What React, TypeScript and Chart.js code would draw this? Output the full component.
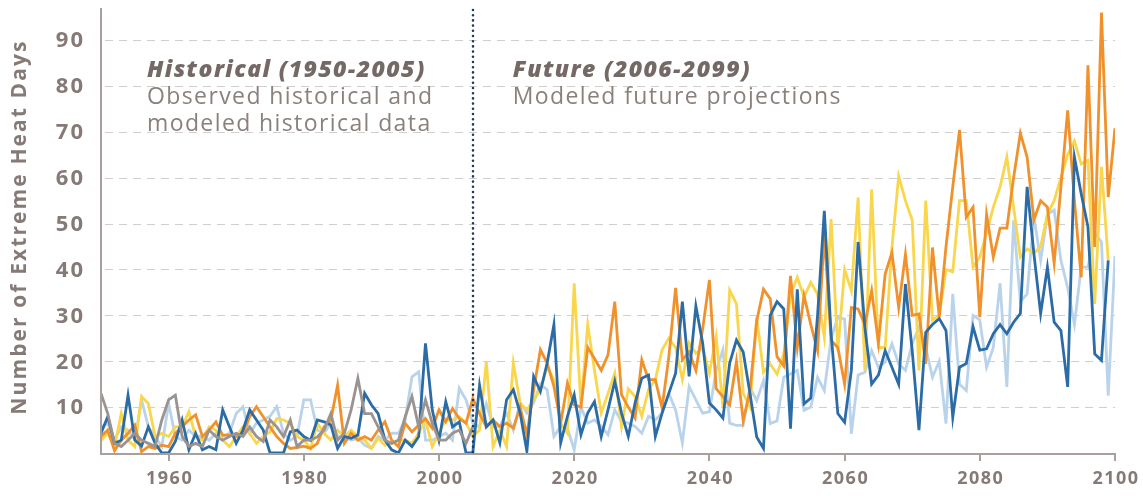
import React, { useEffect, useRef } from "react";
import { Chart, registerables } from "chart.js";

Chart.register(...registerables);

// ---------- data ----------
const FIRST_YEAR = 1950;
const X_TICKS = [1960, 1980, 2000, 2020, 2040, 2060, 2080, 2100];
const Y_TICKS = [10, 20, 30, 40, 50, 60, 70, 80, 90];
const DIVIDER_YEAR = 2005;

// observed historical (1950-2005)
const observed = [
  13, 8.6, 2.1, 1.4, 2.8, 4.3, 2.8, 2.1, 1.4, 7.2,
  11.6, 12.6, 3.6, 1.4, 2.1, 1.4, 5, 3.6, 2.8, 3.6,
  4.3, 3.6, 5.7, 3.6, 2.5, 7.2, 5.7, 3.6, 7.2, 1.4,
  2.8, 2.8, 3.5, 5, 8.6, 2.8, 4.3, 9.4, 16.3, 8.6,
  8.6, 5.7, 2.8, 2.1, 2.8, 7.9, 12.3, 5.7, 11.6, 6.5,
  2.8, 2.8, 4.3, 5, 2.1, 5.7,
];

// model 1 (dark blue), 1950-2099
const darkBlue = [
  4.3, 7.9, 2.1, 2.8, 12.6, 2.8, 1.5, 5.7, 2.1, 0,
  0, 2.5, 7.2, 0.7, 4.3, 0.7, 1.4, 0.7, 9.4, 5.7,
  2.1, 5, 9.4, 7.2, 5, 0, 0, 0, 4.6, 5,
  3.6, 2.8, 7.2, 6.8, 6.1, 1, 3.6, 3.2, 3.9, 13,
  10.5, 8.6, 2.8, 0.7, 0, 2.8, 1.4, 3.6, 23.9, 9.4,
  2.8, 11.2, 5.7, 6.8, 0, 0, 14.7, 5.7, 7.2, 2.2,
  11.6, 13.8, 8.7, 0.4, 16.7, 13.4, 19.6, 28, 2.2, 8,
  12.7, 4, 8.7, 11.2, 3.6, 9.4, 15.6, 8.7, 3.6, 10.9,
  16.3, 17, 3.6, 8.7, 13, 17.4, 33, 16.7, 32, 24,
  10.9, 9.4, 7.6, 19.6, 24.6, 22, 13, 3.5, 1, 30,
  33, 31.4, 5.3, 35.7, 10.7, 12, 30, 52.8, 26, 8.6,
  6.7, 18, 46, 27.4, 15, 17, 22.3, 18.7, 15, 36.8,
  22.3, 5, 26.3, 28, 29.3, 26.7, 7.8, 18.7, 19.5, 27.5,
  22.4, 22.7, 26, 28, 26, 28.5, 30.4, 58, 43.5, 30.4,
  40.5, 28.5, 26.7, 14.4, 64.5, 56.5, 49.3, 21.6, 20.2, 42,
];

// model 2 (light blue), 1950-2100
const lightBlue = [
  5.7, 6.5, 2.8, 5.7, 5, 2.8, 11.6, 5.7, 3.6, 1.4,
  10.8, 3.6, 2.8, 5, 3.6, 3.6, 2.8, 4.3, 3.6, 4.3,
  8.6, 10.1, 4.3, 6.5, 7.2, 8, 10.1, 4.3, 2.8, 3.6,
  11.6, 11.6, 5, 4.3, 6.5, 3.6, 3.6, 2.8, 3.2, 1.7,
  1, 3.6, 2.8, 4.3, 4.3, 7.2, 16.6, 17.7, 2.8, 2.8,
  3.6, 4.3, 2.8, 14.1, 11.6, 6.5, 5.7, 10.8, 5.7, 5.8,
  8.7, 5, 11, 8.7, 11, 15, 13.8, 3.6, 5.8, 5.4,
  0.7, 10, 6.5, 7.2, 5.8, 4, 9.4, 6.9, 6.5, 5.8,
  4.3, 8, 7.2, 8.7, 13, 9.4, 2.2, 14.5, 11.6, 8.7,
  9, 18, 22.5, 6.5, 6, 6, 14.3, 11.4, 15.8, 6.4,
  7, 16.5, 17.2, 18, 9.3, 10, 16.5, 13.6, 25, 29.6,
  29.2, 4.2, 17, 17.6, 22.3, 18.7, 19.8, 23.8, 19.4, 18,
  23.8, 27.4, 23, 16.5, 20, 6.4, 34.7, 15, 13.6, 30,
  29, 18.7, 23, 37, 14.4, 50.7, 33, 34.7, 51.5, 42,
  52, 53, 42, 36, 28, 40.5, 40.5, 48, 46, 12.5,
  43,
];

// model 3 (yellow), 1950-2099
const yellow = [
  2.8, 4.3, 1.4, 8.6, 2.8, 1.4, 12.3, 10.8, 3.6, 4.3,
  3.6, 5.7, 5.7, 9, 3.6, 2.8, 5.7, 5, 2.8, 1.4,
  3.6, 5.7, 4.3, 2.1, 3.6, 4.6, 7.5, 7.2, 6.5, 3.6,
  2.8, 1, 6.5, 4.3, 2.8, 5, 3.6, 5, 3.6, 2.8,
  1, 3.2, 1.7, 2.1, 2.8, 2.8, 2.1, 4.3, 7.2, 1.4,
  4.3, 7.2, 7.2, 7.9, 6.5, 3.6, 5, 19.8, 1.4, 5,
  1.4, 19.6, 10.9, 9.4, 11.6, 13.8, 18.8, 16, 6.5, 4.3,
  37, 10, 28, 18, 8.7, 13, 17.4, 5.8, 14, 12.3,
  8, 13.8, 16, 22.5, 25, 23, 16, 24, 21.7, 23,
  17.4, 25.4, 10, 35.5, 32.5, 13, 10, 29.6, 17.6, 19.4,
  17.2, 21.6, 34.6, 38.3, 34, 37.2, 34.6, 25.2, 51, 22.3,
  40, 35.4, 55.7, 18, 57.5, 23, 23, 44.8, 60.4, 55,
  50.8, 18, 55, 29, 30, 40, 39.5, 55, 55, 40.5,
  42.7, 48, 53.6, 58, 64.5, 53.6, 42.7, 44.5, 43.5, 45,
  52, 55, 60, 65, 68, 63, 63.8, 32.5, 62.4, 42,
];

// model 4 (orange), 1950-2100
const orange = [
  3.6, 5, 0.5, 2.8, 4.3, 6.1, 0.3, 1.4, 1, 1.7,
  1.4, 4.3, 5.7, 7.2, 8.3, 3.6, 5, 6.8, 3.9, 3.9,
  3.6, 4.3, 7.9, 10.1, 7.9, 5.7, 3.6, 2.1, 1, 1.2,
  1.5, 1, 2.1, 5.7, 7.2, 14.8, 2.1, 4.3, 2.8, 3.6,
  2.8, 5, 6.8, 2.8, 1.4, 6.5, 4.6, 6.1, 7.5, 5.4,
  9.4, 6.8, 9.7, 7.5, 6.5, 11.9, 8.6, 5.7, 7.2, 5.8,
  6.5, 5.4, 10, 4, 13.8, 22.5, 19.6, 14.5, 6.5, 15.2,
  10.5, 10, 23, 20.6, 18, 21.4, 33, 12.7, 10, 7.6,
  20.3, 16, 16, 9.8, 21, 36, 20.3, 22, 18, 27,
  37.7, 14, 12.3, 10.5, 20, 7, 13.6, 28.8, 35.7, 33.6,
  21, 19, 38.6, 23, 34.3, 28, 22.3, 47.7, 24.5, 23,
  15, 31.7, 31.4, 28, 35.4, 24, 39, 43.7, 31.7, 43.3,
  30, 30.3, 19.4, 44.8, 29.6, 45, 58, 70.4, 51.4, 53.6,
  29.6, 52, 42.7, 49, 49, 60, 69.7, 64.5, 50.8, 55,
  53.6, 41.4, 58, 74.7, 55, 38.3, 84.5, 44.9, 96, 55.8,
  70.8,
];

const NOTES = [
  { year: 1956.8, value: 83.4, lines: ["Historical (1950-2005)", "Observed historical and", "modeled historical data"] },
  { year: 2010.9, value: 83.4, lines: ["Future (2006-2099)", "Modeled future projections"] },
];
const Y_TITLE = "Number of Extreme Heat Days";

// ---------- styles ----------
const FONT = "'Open Sans', 'DejaVu Sans', sans-serif";
const LABEL_COLOR = "#857a76";
const NOTE_TITLE_COLOR = "#746965";
const NOTE_TEXT_COLOR = "#8a807c";
const AXIS_COLOR = "#a8a09c";
const GRID_COLOR = "#cfcfcf";

const toPoints = (arr: number[]) => arr.map((v, i) => ({ x: FIRST_YEAR + i, y: v }));

const setSpacing = (ctx: any, px: number) => {
  ctx.letterSpacing = `${px}px`;
};

const overlayPlugin = {
  id: "overlay",
  beforeDatasetsDraw(chart: any) {
    const { ctx, chartArea: ca, scales } = chart;
    const xs = scales.x;
    const ys = scales.y;
    ctx.save();
    // dashed gridlines
    ctx.strokeStyle = GRID_COLOR;
    ctx.lineWidth = 1;
    ctx.setLineDash([8, 6]);
    Y_TICKS.forEach((v) => {
      const py = Math.round(ys.getPixelForValue(v)) + 0.5;
      ctx.beginPath();
      ctx.moveTo(ca.left + 4, py);
      ctx.lineTo(ca.right, py);
      ctx.stroke();
    });
    ctx.setLineDash([]);

    // y tick labels
    ctx.fillStyle = LABEL_COLOR;
    ctx.textAlign = "right";
    ctx.textBaseline = "middle";
    ctx.font = `bold 22px ${FONT}`;
    setSpacing(ctx, 2);
    Y_TICKS.forEach((v) => {
      ctx.fillText(String(v), ca.left - 16, ys.getPixelForValue(v) + 1);
    });
    // x tick labels
    ctx.textAlign = "center";
    ctx.font = `bold 18px ${FONT}`;
    setSpacing(ctx, 1.5);
    X_TICKS.forEach((v) => {
      ctx.fillText(String(v), xs.getPixelForValue(v) + 1, ca.bottom + 26);
    });

    // annotations
    ctx.textAlign = "left";
    ctx.textBaseline = "middle";
    NOTES.forEach((n) => {
      const px = xs.getPixelForValue(n.year);
      const py0 = ys.getPixelForValue(n.value);
      n.lines.forEach((line, i) => {
        if (i === 0) {
          ctx.font = `italic 800 23px ${FONT}`;
          ctx.fillStyle = NOTE_TITLE_COLOR;
        } else {
          ctx.font = `500 23px ${FONT}`;
          ctx.fillStyle = NOTE_TEXT_COLOR;
        }
        setSpacing(ctx, 1.4);
        ctx.fillText(line, px, py0 + i * 27);
      });
    });

    // y axis title
    ctx.save();
    ctx.translate(20, 227);
    ctx.rotate(-Math.PI / 2);
    ctx.textAlign = "center";
    ctx.textBaseline = "middle";
    ctx.font = `bold 21px ${FONT}`;
    setSpacing(ctx, 2.1);
    ctx.fillStyle = LABEL_COLOR;
    ctx.fillText(Y_TITLE, 0, 0);
    ctx.restore();
    ctx.restore();
  },
  afterDatasetsDraw(chart: any) {
    const { ctx, chartArea: ca, scales } = chart;
    const xs = scales.x;
    ctx.save();
    // axes
    ctx.strokeStyle = AXIS_COLOR;
    ctx.lineWidth = 2;
    ctx.beginPath();
    ctx.moveTo(ca.left, ca.top);
    ctx.lineTo(ca.left, ca.bottom + 1);
    ctx.lineTo(ca.right, ca.bottom + 1);
    ctx.stroke();
    X_TICKS.forEach((v) => {
      const px = Math.round(xs.getPixelForValue(v));
      ctx.beginPath();
      ctx.moveTo(px, ca.bottom);
      ctx.lineTo(px, ca.bottom + 8);
      ctx.stroke();
    });
    // dotted divider
    const dx = Math.round(xs.getPixelForValue(DIVIDER_YEAR));
    ctx.strokeStyle = "#1d3a5e";
    ctx.lineWidth = 2.6;
    ctx.lineCap = "round";
    ctx.setLineDash([0, 5.2]);
    ctx.beginPath();
    ctx.moveTo(dx, ca.top + 2);
    ctx.lineTo(dx, ca.bottom);
    ctx.stroke();
    ctx.restore();
  },
};

const lineDs = (label: string, data: number[], color: string) => ({
  label,
  data: toPoints(data),
  borderColor: color,
  backgroundColor: color,
  borderWidth: 2.8,
  pointRadius: 0,
  tension: 0,
  fill: false,
});

const zeroPad = (s: any) => {
  s.paddingTop = 0;
  s.paddingBottom = 0;
  s.paddingLeft = 0;
  s.paddingRight = 0;
};

export default function App() {
  const ref = useRef<HTMLCanvasElement | null>(null);
  useEffect(() => {
    if (!ref.current) return;
    const chart = new Chart(ref.current, {
      type: "line",
      data: {
        datasets: [
          lineDs("Observed", observed, "#9a9390"),
          lineDs("Model 1", darkBlue, "#2b6ca6"),
          lineDs("Model 4", orange, "#f0912b"),
          lineDs("Model 3", yellow, "#f9d64c"),
          lineDs("Model 2", lightBlue, "#b9d3ea"),
        ],
      },
      options: {
        animation: false,
        responsive: false,
        devicePixelRatio: 1,
        layout: { padding: { top: 8, right: 28, left: 0, bottom: 0 } },
        plugins: { legend: { display: false }, tooltip: { enabled: false } },
        scales: {
          x: {
            type: "linear",
            min: 1950,
            max: 2100,
            grid: { display: false, drawTicks: false },
            border: { display: false },
            afterBuildTicks: (s: any) => {
              s.ticks = X_TICKS.map((v) => ({ value: v }));
            },
            afterFit: (s: any) => {
              s.height = 43;
              zeroPad(s);
            },
            ticks: { display: false },
          },
          y: {
            min: 0,
            max: 97,
            grid: { display: false, drawTicks: false },
            border: { display: false },
            afterBuildTicks: (s: any) => {
              s.ticks = Y_TICKS.map((v) => ({ value: v }));
            },
            afterFit: (s: any) => {
              s.width = 101;
              zeroPad(s);
            },
            ticks: { display: false },
          },
        },
      },
      plugins: [overlayPlugin],
    });
    return () => chart.destroy();
  }, []);
  return (
    <div style={{ position: "fixed", left: 0, top: 0, width: 1143, height: 496, background: "#fff" }}>
      <canvas ref={ref} width={1143} height={496} style={{ display: "block" }} />
    </div>
  );
}
